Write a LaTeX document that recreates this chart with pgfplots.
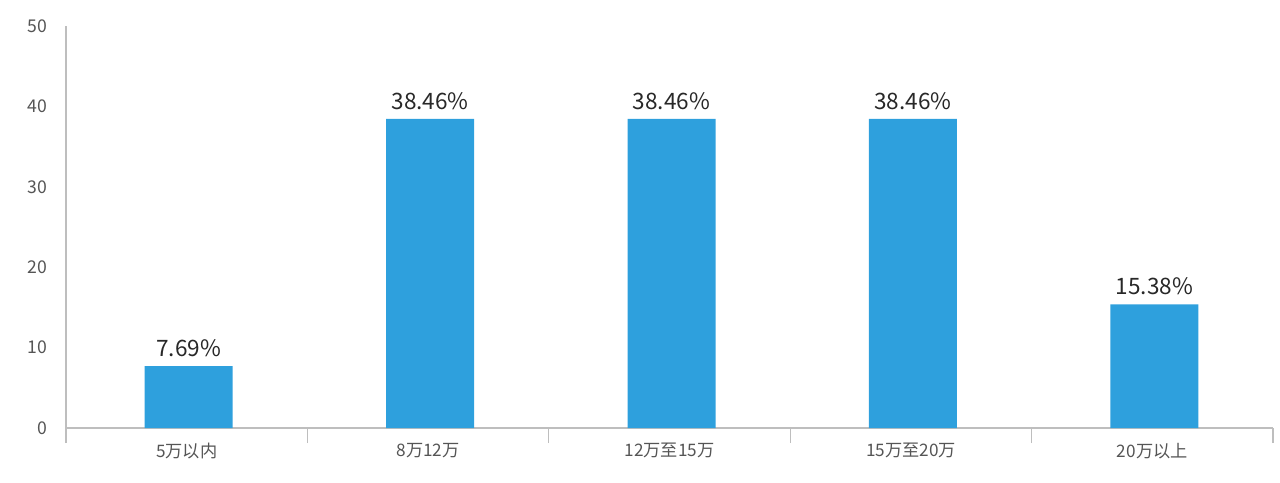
\documentclass[border=0pt]{standalone}
\usepackage{pgfplots}
\pgfplotsset{compat=1.18}
\usepackage{fontspec}
\setmainfont{Noto Sans CJK SC}
\definecolor{barblue}{RGB}{46,160,221}
\definecolor{axgray}{RGB}{190,190,190}
\definecolor{ticktext}{RGB}{85,85,85}
\definecolor{labtext}{RGB}{40,40,40}
\begin{document}
\begin{tikzpicture}
\begin{axis}[
  scale only axis,
  width=603.5pt, height=201pt,
  xmin=-0.5, xmax=4.5,
  ymin=0, ymax=50,
  ytick={0,10,20,30,40,50},
  xtick={0,1,2,3,4},
  xticklabels={5万以内,8万12万,12万至15万,15万至20万,20万以上},
  extra x ticks={-0.5,0.5,1.5,2.5,3.5,4.5},
  extra x tick labels={},
  extra x tick style={major tick length=7.5pt, tick style={axgray, line width=0.6pt}, tick pos=lower, xtick align=outside},
  major tick length=0pt,
  axis x line*=bottom,
  axis y line*=left,
  axis line style={axgray, line width=0.6pt, -},
  ytick style={draw=none},
  /pgf/number format/assume math mode=true,
  yticklabel style={font=\fontsize{8.8}{10}\selectfont, text=ticktext, xshift=-6pt},
  xticklabel style={font=\fontsize{8.6}{10}\selectfont, text=ticktext, yshift=-4pt},
  ybar,
  bar width=44pt,
  bar shift=1pt,
  nodes near coords={\pgfmathprintnumber[fixed,precision=2,fixed zerofill]{\pgfplotspointmeta}\%},
  nodes near coords style={font=\fontsize{11.3}{13}\selectfont, text=labtext, yshift=1pt},
  clip=false,
]
\addplot[fill=barblue, draw=none] coordinates {(0,7.69) (1,38.46) (2,38.46) (3,38.46) (4,15.38)};
\end{axis}
\path ([shift={(-33pt,-27pt)}]current axis.south west) rectangle ([shift={(3.5pt,13pt)}]current axis.north east);
\end{tikzpicture}
\end{document}
